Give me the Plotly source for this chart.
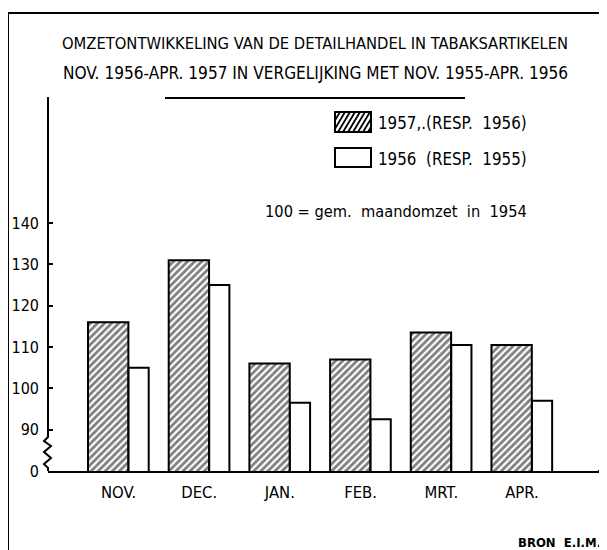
import plotly.graph_objects as go

# ---- data ----
months = ["NOV.", "DEC.", "JAN.", "FEB.", "MRT.", "APR."]
v_1957 = [116, 131, 106, 107, 113.5, 110.5]
v_1956 = [105, 125, 96.5, 92.5, 110.5, 97]
y_tick_vals = [80, 90, 100, 110, 120, 130, 140]
y_tick_text = ["0", "90", "100", "110", "120", "130", "140"]
legend_names = ["1957,.(RESP.\u00a0 1956)", "1956\u00a0 (RESP.\u00a0 1955)"]
title_lines = [
    "OMZETONTWIKKELING VAN DE DETAILHANDEL IN TABAKSARTIKELEN",
    "NOV. 1956-APR. 1957 IN VERGELIJKING MET NOV. 1955-APR. 1956",
]
note = "100 = gem.\u00a0 maandomzet\u00a0 in\u00a0 1954"
source = "BRON\u00a0 E.I.M."

FONT = "Liberation Sans Narrow, DejaVu Sans Condensed, Open Sans Condensed, Liberation Sans, sans-serif"
OFF = 8  # page body margin
W, H = 607, 550
# plot area in page pixels: x 48..600, y 97..471
L = 48 - OFF
T = 97 - OFF
R = W - (600 - OFF)
B = H - (471 - OFF)
PW, PH = W - L - R, H - T - B


def PX(px):
    return (px - OFF - L) / PW


def PY(py):
    return (H - B - (py - OFF)) / PH


def fnt(size, weight=400):
    return dict(family=FONT, size=size, color="black", weight=weight)


fig = go.Figure()
fig.add_trace(go.Bar(
    x=months, y=v_1957, name=legend_names[0],
    offset=-0.378, width=0.50,
    marker=dict(color="white", line=dict(color="black", width=2),
                pattern=dict(shape="/", fgcolor="black", bgcolor="white",
                             size=5, solidity=0.55)),
))
fig.add_trace(go.Bar(
    x=months, y=v_1956, name=legend_names[1],
    offset=0.124, width=0.25,
    marker=dict(color="white", line=dict(color="black", width=2)),
))

shapes = []
line_style = dict(color="black", width=2)
# outer frame
shapes.append(dict(type="rect", xref="paper", yref="paper",
                   x0=PX(8), x1=PX(605), y0=PY(13), y1=PY(600),
                   line=line_style, fillcolor="rgba(0,0,0,0)", layer="below"))
# title underline
shapes.append(dict(type="line", xref="paper", yref="paper",
                   x0=PX(165), x1=PX(465), y0=PY(98), y1=PY(98), line=line_style))
# y axis with break
pts = [(48, 97), (48, 437), (44, 441), (51, 446), (44, 452), (51, 458),
       (44, 464), (48, 468), (48, 471)]
path = "M " + " L ".join(f"{PX(a)},{PY(b)}" for a, b in pts)
shapes.append(dict(type="path", xref="paper", yref="paper", path=path,
                   line=line_style))
# baseline extension to the frame
shapes.append(dict(type="line", xref="paper", yref="paper",
                   x0=PX(598), x1=PX(606), y0=PY(471), y1=PY(471), line=line_style))


# legend swatches
def swatch(x0, y0, x1, y1, hatched):
    out = [dict(type="rect", xref="paper", yref="paper",
                x0=PX(x0), x1=PX(x1), y0=PY(y0), y1=PY(y1),
                line=line_style, fillcolor="white")]
    if hatched:
        w, h = x1 - x0, y1 - y0
        k = 0.6
        c = -h * k
        while c < w:
            sx, sy = c, 0.0
            ex, ey = c + h * k, h
            if sx < 0:
                sy = -sx / k
                sx = 0
            if ex > w:
                ey = (w - c) / k
                ex = w
            out.append(dict(type="line", xref="paper", yref="paper",
                            x0=PX(x0 + sx), y0=PY(y1 - sy),
                            x1=PX(x0 + ex), y1=PY(y1 - ey),
                            line=dict(color="black", width=1.8)))
            c += 5
    return out


shapes += swatch(335, 112, 371, 132, True)
shapes += swatch(335, 148, 371, 167, False)

ann = []
for text, py, fs in zip(title_lines, [43, 73], [16.4, 17.1]):
    ann.append(dict(text=text, xref="paper", yref="paper", x=PX(315), y=PY(py),
                    xanchor="center", yanchor="middle", showarrow=False,
                    font=fnt(fs)))
for text, py in zip(legend_names, [123, 159]):
    ann.append(dict(text=text, xref="paper", yref="paper", x=PX(376), y=PY(py),
                    xanchor="left", yanchor="middle", showarrow=False,
                    font=fnt(16.8)))
ann.append(dict(text=note, xref="paper", yref="paper", x=PX(263), y=PY(211),
                xanchor="left", yanchor="middle", showarrow=False,
                font=fnt(16.3)))
ann.append(dict(text=source, xref="paper", yref="paper", x=PX(603), y=PY(542),
                xanchor="right", yanchor="middle", showarrow=False,
                font=fnt(13, 700)))

fig.update_layout(
    width=W, height=H,
    margin=dict(l=L, r=R, t=T, b=B, pad=0, autoexpand=False),
    paper_bgcolor="white", plot_bgcolor="white",
    showlegend=False,
    barmode="overlay",
    shapes=shapes, annotations=ann,
    font=fnt(16),
)
fig.update_xaxes(type="category", range=[-0.874, 5.967], showline=True,
                 linecolor="black", linewidth=2, ticks="", showgrid=False,
                 zeroline=False, tickfont=fnt(16.5), automargin=False,
                 ticklabelstandoff=5, fixedrange=True)
fig.update_yaxes(range=[80, 170.5], tickvals=y_tick_vals, ticktext=y_tick_text,
                 showline=False, ticks="inside", ticklen=5, tickwidth=2,
                 tickcolor="black", showgrid=False, zeroline=False,
                 tickfont=fnt(16), ticklabelstandoff=8, automargin=False,
                 fixedrange=True)

fig.write_html("out.html")
